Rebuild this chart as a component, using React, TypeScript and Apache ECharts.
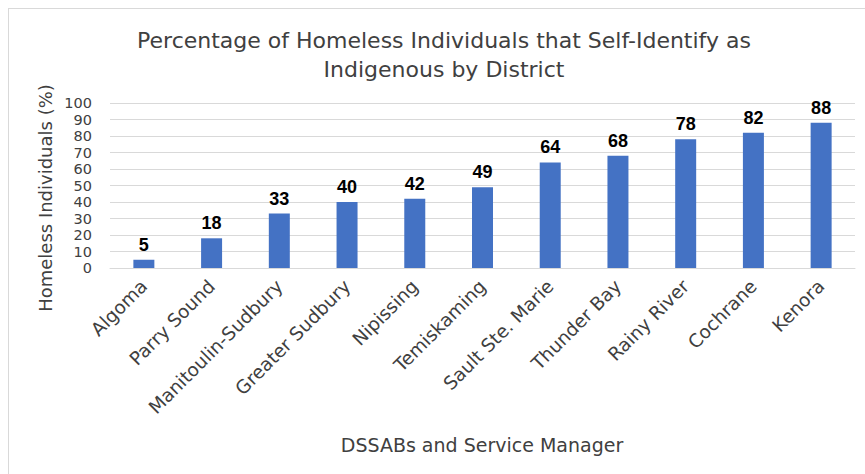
import React, { useEffect, useRef } from "react";
import * as echarts from "echarts";

const categories = [
  "Algoma",
  "Parry Sound",
  "Manitoulin-Sudbury",
  "Greater Sudbury",
  "Nipissing",
  "Temiskaming",
  "Sault Ste. Marie",
  "Thunder Bay",
  "Rainy River",
  "Cochrane",
  "Kenora",
];
const percentIndigenous = [5, 18, 33, 40, 42, 49, 64, 68, 78, 82, 88];
const titleText = "Percentage of Homeless Individuals that Self-Identify as\nIndigenous by District";
const yAxisTitle = "Homeless Individuals (%)";
const xAxisTitle = "DSSABs and Service Manager";

const FONT = "'DejaVu Sans', 'Noto Sans', sans-serif";
const TEXT = "#404040";

export default function App() {
  const ref = useRef<HTMLDivElement>(null);
  useEffect(() => {
    if (!ref.current) return;
    const chart = echarts.init(ref.current, undefined, { renderer: "svg" });
    chart.setOption({
      animation: false,
      backgroundColor: "#ffffff",
      textStyle: { fontFamily: FONT },
      title: {
        text: titleText,
        left: 439,
        textAlign: "center",
        top: 21,
        textStyle: {
          fontFamily: FONT,
          fontSize: 22,
          fontWeight: "normal",
          color: TEXT,
          lineHeight: 29,
        },
      },
      grid: { left: 110, right: 10, top: 103, bottom: 206, containLabel: false },
      xAxis: {
        type: "category",
        data: categories,
        axisLine: { show: true, lineStyle: { color: "#d9d9d9", width: 1 } },
        axisTick: { show: false },
        axisLabel: {
          rotate: 45,
          interval: 0,
          margin: 15,
          fontFamily: FONT,
          fontSize: 18.5,
          color: TEXT,
        },
      },
      yAxis: {
        type: "value",
        min: 0,
        max: 100,
        interval: 10,
        axisLine: { show: false },
        axisTick: { show: false },
        splitLine: { lineStyle: { color: "#d9d9d9", width: 1 } },
        axisLabel: {
          margin: 18,
          fontFamily: FONT,
          fontSize: 14.5,
          lineHeight: 15,
          color: TEXT,
        },
      },
      series: [
        {
          type: "bar",
          data: percentIndigenous,
          barWidth: "31%",
          itemStyle: { color: "#4472C4" },
          label: {
            show: true,
            position: "top",
            distance: 6,
            fontFamily: "'Liberation Sans', Arial, sans-serif",
            fontWeight: "bold",
            fontSize: 18,
            color: "#000000",
          },
        },
      ],
      graphic: [
        {
          type: "line",
          shape: { x1: 8.5, y1: 8, x2: 8.5, y2: 474 },
          style: { stroke: "#d9d9d9", lineWidth: 1 },
          silent: true,
        },
        {
          type: "line",
          shape: { x1: 8, y1: 8.5, x2: 865, y2: 8.5 },
          style: { stroke: "#d9d9d9", lineWidth: 1 },
          silent: true,
        },
        {
          type: "text",
          x: 45,
          y: 198,
          rotation: Math.PI / 2,
          style: {
            text: yAxisTitle,
            fontFamily: FONT,
            fontSize: 18,
            fill: TEXT,
            align: "center",
            verticalAlign: "middle",
          },
        },
        {
          type: "text",
          x: 482,
          y: 445,
          style: {
            text: xAxisTitle,
            fontFamily: FONT,
            fontSize: 19,
            fill: TEXT,
            align: "center",
            verticalAlign: "middle",
          },
        },
      ],
    });
    return () => chart.dispose();
  }, []);
  return (
    <div
      ref={ref}
      style={{ position: "fixed", left: 0, top: 0, width: 865, height: 474 }}
    />
  );
}
